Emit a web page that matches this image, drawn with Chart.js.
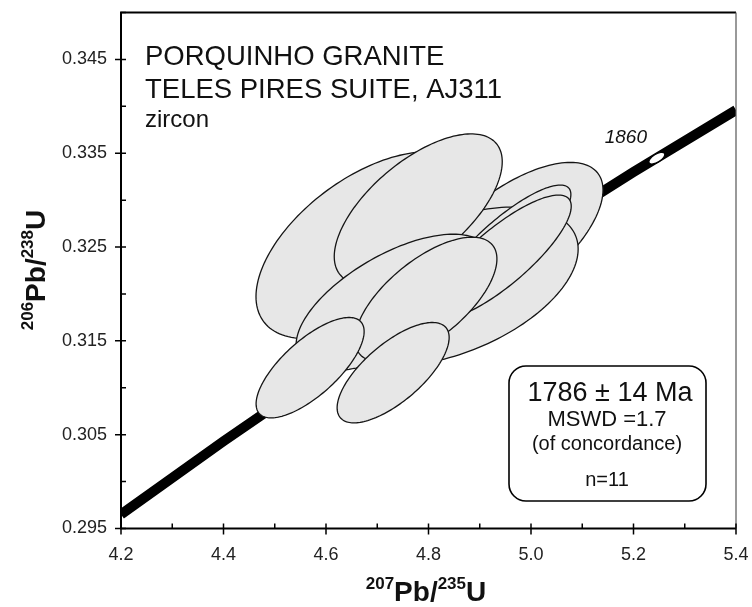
<!DOCTYPE html>
<html>
<head>
<meta charset="utf-8">
<script src="https://cdn.jsdelivr.net/npm/chart.js@4.4.0/dist/chart.umd.min.js"></script>
<style>
  body { margin: 0; background: #fff; }
  #wrap { width: 752px; height: 607px; }
</style>
</head>
<body>
<div id="wrap"><canvas id="concordia"></canvas></div>
<script>
// concordia curve, 207Pb/235U vs 206Pb/238U
const concX = [4.2, 4.4, 4.6, 4.8, 5.0, 5.2, 5.4];
const concY = [0.2965, 0.3043, 0.3118, 0.3190, 0.3261, 0.3330, 0.3396];

// age mark on the curve (Ma)
const markAge = [1860];
const markX = [5.2455];
const markY = [0.33447];

// zircon spots: centre, 2s half widths and error correlation (back to front)
const spotX   = [4.678, 4.959, 4.850, 4.780, 4.949, 4.934, 4.940, 4.731, 4.795, 4.569, 4.731];
const spotY   = [0.32519, 0.32560, 0.32081, 0.32904, 0.32530, 0.32348, 0.32391, 0.31910, 0.31942, 0.31214, 0.31161];
const spotSX  = [0.2146, 0.1815, 0.2420, 0.1639, 0.1288, 0.1268, 0.1385, 0.1893, 0.1385, 0.1054, 0.1093];
const spotSY  = [0.00995, 0.00842, 0.00845, 0.00802, 0.00631, 0.00620, 0.00663, 0.00727, 0.00663, 0.00535, 0.00535];
const spotRho = [0.55, 0.65, 0.47, 0.63, 0.84, 0.89, 0.82, 0.62, 0.65, 0.72, 0.70];

// labelled ticks
const xTickLabels = ['4.2', '4.4', '4.6', '4.8', '5.0', '5.2', '5.4'];
const yTickLabels = ['0.295', '0.305', '0.315', '0.325', '0.335', '0.345'];

const FONT = '"Liberation Sans", Arial, Helvetica, sans-serif';

// draws runs of normal / superscript text, centred on x
function richText(ctx, runs, x, y) {
  let w = 0;
  runs.forEach(r => { ctx.font = r.font; w += ctx.measureText(r.t).width; });
  let cx = x - w / 2;
  runs.forEach(r => {
    ctx.font = r.font;
    ctx.fillText(r.t, cx, y - (r.up || 0));
    cx += ctx.measureText(r.t).width;
  });
}

// keep the plot box fixed: no extra room for overhanging tick labels
function fixScale(size) {
  return s => {
    if (s.isHorizontal()) s.height = size; else s.width = size;
    s.paddingTop = s.paddingBottom = s.paddingLeft = s.paddingRight = 0;
  };
}

const concordiaExtras = {
  id: 'concordiaExtras',
  afterDatasetsDraw(chart) {
    const { ctx, scales: { x, y } } = chart;
    ctx.save();

    // error ellipses
    ctx.fillStyle = '#e7e7e7';
    ctx.strokeStyle = '#151515';
    ctx.lineWidth = 1.3;
    for (let i = 0; i < spotX.length; i++) {
      const r = spotRho[i], q = Math.sqrt(1 - r * r);
      ctx.beginPath();
      for (let k = 0; k <= 160; k++) {
        const t = k / 160 * 2 * Math.PI;
        const px = x.getPixelForValue(spotX[i] + spotSX[i] * Math.cos(t));
        const py = y.getPixelForValue(spotY[i] + spotSY[i] * (r * Math.cos(t) + q * Math.sin(t)));
        if (k === 0) ctx.moveTo(px, py); else ctx.lineTo(px, py);
      }
      ctx.closePath();
      ctx.fill();
      ctx.stroke();
    }

    // age mark
    const p0 = [x.getPixelForValue(concX[5]), y.getPixelForValue(concY[5])];
    const p1 = [x.getPixelForValue(concX[6]), y.getPixelForValue(concY[6])];
    const ang = Math.atan2(p1[1] - p0[1], p1[0] - p0[0]);
    markX.forEach((mx, i) => {
      const px = x.getPixelForValue(mx), py = y.getPixelForValue(markY[i]);
      ctx.beginPath();
      ctx.ellipse(px, py, 9, 4, ang, 0, 2 * Math.PI);
      ctx.fillStyle = '#fff';
      ctx.fill();
      ctx.lineWidth = 1.2;
      ctx.strokeStyle = '#000';
      ctx.stroke();
      ctx.fillStyle = '#111';
      ctx.font = 'italic 19px ' + FONT;
      ctx.textAlign = 'center';
      ctx.fillText(String(markAge[i]), px - 31, py - 15);
    });
    ctx.restore();
  },
  afterDraw(chart) {
    const { ctx, chartArea: a, scales: { x, y } } = chart;
    ctx.save();

    // frame
    ctx.strokeStyle = '#000';
    ctx.lineWidth = 2;
    ctx.beginPath();
    ctx.moveTo(a.right, a.top); ctx.lineTo(a.left, a.top);
    ctx.lineTo(a.left, a.bottom); ctx.lineTo(a.right, a.bottom);
    ctx.stroke();
    ctx.strokeStyle = '#555';
    ctx.lineWidth = 1.2;
    ctx.beginPath();
    ctx.moveTo(a.right, a.top); ctx.lineTo(a.right, a.bottom);
    ctx.stroke();

    // ticks: labelled ones cross the axis, the others point inward
    ctx.strokeStyle = '#000';
    ctx.lineWidth = 1.5;
    ctx.beginPath();
    x.ticks.forEach((t, i) => {
      const px = x.getPixelForValue(t.value);
      if (i % 2 === 0) { ctx.moveTo(px, a.bottom - 5); ctx.lineTo(px, a.bottom + 6); }
      else { ctx.moveTo(px, a.bottom - 5); ctx.lineTo(px, a.bottom); }
    });
    y.ticks.forEach((t, i) => {
      const py = y.getPixelForValue(t.value);
      if (i % 2 === 0) { ctx.moveTo(a.left - 6, py); ctx.lineTo(a.left + 5, py); }
      else { ctx.moveTo(a.left, py); ctx.lineTo(a.left + 5, py); }
    });
    ctx.stroke();

    // sample name
    ctx.fillStyle = '#111';
    ctx.textAlign = 'left';
    ctx.textBaseline = 'alphabetic';
    ctx.font = '27.5px ' + FONT;
    ctx.fillText('PORQUINHO GRANITE', 145, 65);
    ctx.fillText('TELES PIRES SUITE, AJ311', 145, 98);
    ctx.font = '24px ' + FONT;
    ctx.fillText('zircon', 145, 127);

    // result box
    ctx.lineWidth = 1.6;
    ctx.beginPath();
    ctx.roundRect(509, 366, 197, 135, 17);
    ctx.fillStyle = '#fff';
    ctx.fill();
    ctx.stroke();
    ctx.fillStyle = '#111';
    ctx.textAlign = 'center';
    ctx.font = '27px ' + FONT;
    ctx.fillText('1786 \u00b1 14 Ma', 610, 401);
    ctx.font = '22px ' + FONT;
    ctx.fillText('MSWD =1.7', 607, 426);
    ctx.font = '20px ' + FONT;
    ctx.fillText('(of concordance)', 607, 450);
    ctx.fillText('n=11', 607, 486);

    // axis titles
    ctx.textAlign = 'left';
    const big = 'bold 28px ' + FONT, sup = 'bold 17px ' + FONT;
    richText(ctx, [
      { t: '207', font: sup, up: 12 }, { t: 'Pb/', font: big },
      { t: '235', font: sup, up: 12 }, { t: 'U', font: big }
    ], 426, 601);
    ctx.translate(45, 270);
    ctx.rotate(-Math.PI / 2);
    richText(ctx, [
      { t: '206', font: sup, up: 12 }, { t: 'Pb/', font: big },
      { t: '238', font: sup, up: 12 }, { t: 'U', font: big }
    ], 0, 0);
    ctx.restore();
  }
};

new Chart(document.getElementById('concordia'), {
  type: 'scatter',
  data: {
    datasets: [{
      data: concX.map((v, i) => ({ x: v, y: concY[i] })),
      showLine: true,
      borderColor: '#000',
      borderWidth: 10,
      borderCapStyle: 'butt',
      pointRadius: 0,
      clip: 0
    }]
  },
  options: {
    responsive: true,
    maintainAspectRatio: false,
    animation: false,
    devicePixelRatio: 1,
    layout: { padding: { top: 12.5, right: 16, left: 0, bottom: 0 } },
    plugins: { legend: { display: false }, tooltip: { enabled: false } },
    scales: {
      x: {
        type: 'linear', min: 4.2, max: 5.4,
        grid: { display: false, drawTicks: false },
        border: { display: false },
        afterFit: fixScale(78.5),
        ticks: {
          stepSize: 0.1, autoSkip: false, maxRotation: 0, padding: 16,
          color: '#222', font: { family: FONT, size: 18 },
          callback: v => { const l = v.toFixed(1); return xTickLabels.includes(l) ? l : ''; }
        }
      },
      y: {
        type: 'linear', min: 0.295, max: 0.350,
        grid: { display: false, drawTicks: false },
        border: { display: false },
        afterFit: fixScale(121),
        ticks: {
          stepSize: 0.005, autoSkip: false, padding: 14,
          color: '#222', font: { family: FONT, size: 18 },
          callback: v => { const l = v.toFixed(3); return yTickLabels.includes(l) ? l : ''; }
        }
      }
    }
  },
  plugins: [concordiaExtras]
});
</script>
</body>
</html>
